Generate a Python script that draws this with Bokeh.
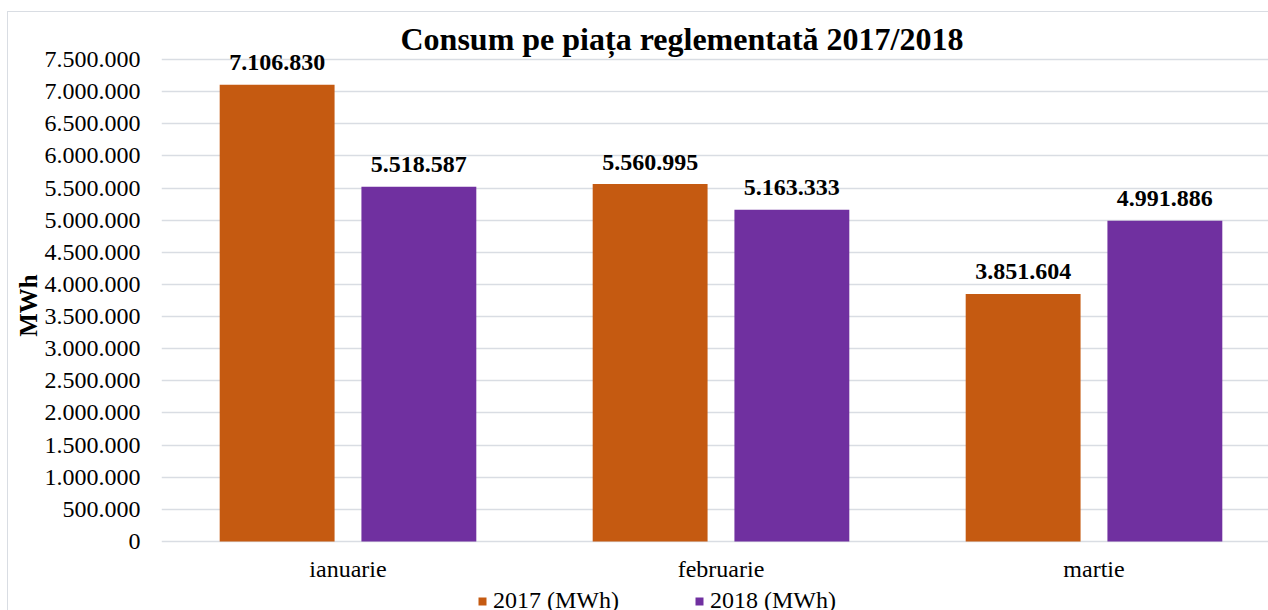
from bokeh.plotting import figure
from bokeh.models import (ColumnDataSource, FixedTicker, Legend, LegendItem, Range1d,
                          LabelSet, Label, InlineStyleSheet)
from bokeh.embed import file_html
from bokeh.resources import INLINE

# ---- data ----
months = ["ianuarie", "februarie", "martie"]
values_2017 = [7106830, 5560995, 3851604]
values_2018 = [5518587, 5163333, 4991886]
series_names = ["2017 (MWh)", "2018 (MWh)"]
y_ticks = list(range(0, 7500001, 500000))
title_text = "Consum pe piața reglementată 2017/2018"
y_label = "MWh"

def fmt(v):
    return f"{v:,}".replace(",", ".")

ORANGE = "#C55A11"
PURPLE = "#7030A0"
GRID = "#D9DDE3"
FONT = "Liberation Serif"

# ---- geometry (pixels, relative to the figure's top-left) ----
LEFT = 161
FW, FH = 1268 - LEFT, 610   # frame size
CAT_W = 373                 # px per category
Y0_PX = 541                 # frame y (from top) of value 0
YTOP_PX = 59                # frame y (from top) of top tick
y_max = y_ticks[-1]
upp = y_max / (Y0_PX - YTOP_PX)   # units per pixel
y_start = -(FH - Y0_PX) * upp
y_end = Y0_PX * upp

idx = list(range(len(months)))
centers = [i + 0.5 for i in idx]
off = 0.19
bw = 0.308

src17 = ColumnDataSource(dict(x=[c - off for c in centers], top=values_2017,
                              lab=[fmt(v) for v in values_2017]))
src18 = ColumnDataSource(dict(x=[c + off for c in centers], top=values_2018,
                              lab=[fmt(v) for v in values_2018]))
src_cat = ColumnDataSource(dict(x=centers, y=[0] * len(centers), lab=months))

p = figure(frame_width=FW, frame_height=FH, output_backend="svg", toolbar_location=None,
           x_range=Range1d(0, FW / CAT_W), y_range=Range1d(y_start, y_end),
           min_border_left=LEFT, min_border_right=0, min_border_top=0, min_border_bottom=0)
p.stylesheets = [InlineStyleSheet(css=(
    ":host::after{content:'';position:absolute;left:7px;top:11px;right:0;bottom:0;"
    "border-left:1.5px solid #D9DDE3;border-top:1.5px solid #D9DDE3;pointer-events:none;}"))]
p.outline_line_color = None
p.background_fill_color = "white"
p.border_fill_color = "white"

r17 = p.vbar(x="x", top="top", bottom=0, width=bw, source=src17, color=ORANGE, line_color=None)
r18 = p.vbar(x="x", top="top", bottom=0, width=bw, source=src18, color=PURPLE, line_color=None)

for s in (src17, src18):
    p.add_layout(LabelSet(x="x", y="top", text="lab", source=s, text_align="center",
                          text_baseline="middle", y_offset=22, text_font=FONT,
                          text_font_size="24px", text_font_style="bold", text_color="black"))

# category labels
p.add_layout(LabelSet(x="x", y="y", text="lab", source=src_cat, text_align="center",
                      text_baseline="middle", y_offset=-27, text_font=FONT,
                      text_font_size="24px", text_color="black"))

# title
p.add_layout(Label(x=239, y=FH - 38, x_units="screen", y_units="screen", text=title_text,
                   text_align="left", text_baseline="middle", text_font=FONT,
                   text_font_size="32px", text_font_style="bold", text_color="black"))

# y axis
p.yaxis.ticker = FixedTicker(ticks=y_ticks)
p.yaxis.major_label_overrides = {t_: fmt(t_) for t_ in y_ticks}
p.yaxis.axis_line_color = None
p.yaxis.major_tick_line_color = None
p.yaxis.minor_tick_line_color = None
p.yaxis.major_label_standoff = 15
p.yaxis.major_label_text_font = FONT
p.yaxis.major_label_text_font_size = "24px"
p.yaxis.major_label_text_color = "black"
p.yaxis.axis_label = y_label
p.yaxis.axis_label_text_font = FONT
p.yaxis.axis_label_text_font_size = "25px"
p.yaxis.axis_label_text_font_style = "bold"
p.yaxis.axis_label_text_color = "black"
p.yaxis.axis_label_standoff = 0

p.xaxis.visible = False
p.xgrid.grid_line_color = None
p.ygrid.ticker = FixedTicker(ticks=y_ticks)
p.ygrid.grid_line_color = GRID
p.ygrid.grid_line_width = 1.5

legend = Legend(items=[LegendItem(label=series_names[0], renderers=[r17]),
                       LegendItem(label=series_names[1], renderers=[r18])],
                orientation="horizontal", location=(316, -4), margin=0, padding=0,
                spacing=75, label_standoff=6, glyph_width=10, glyph_height=10,
                label_text_font=FONT, label_text_font_size="24px", label_text_color="black",
                border_line_color=None, background_fill_alpha=0)
p.add_layout(legend, "center")

open("out.html", "w").write(file_html(p, INLINE))
